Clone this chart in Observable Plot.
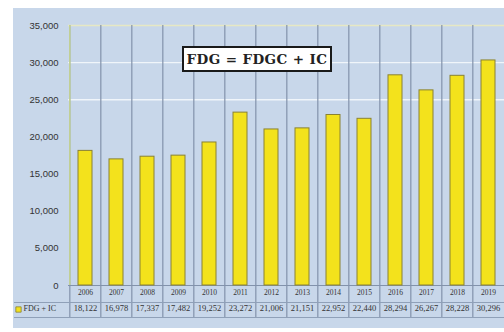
<!DOCTYPE html>
<html>
<head>
<meta charset="utf-8">
<script src="https://cdn.jsdelivr.net/npm/d3@7"></script>
<script src="https://cdn.jsdelivr.net/npm/@observablehq/plot@0.6"></script>
<style>
  html, body { margin: 0; padding: 0; background: #ffffff; overflow: hidden; }
  #wrap { position: relative; width: 504px; height: 332px; }
  #panel { position: absolute; left: 13px; top: 8px; width: 491px; height: 320px; background: #c8d7ea; }
  #chart { position: absolute; left: 0; top: 0; }
  #title { position: absolute; left: 182px; top: 46px; width: 146px; height: 22px;
           background: #ffffff; border: 2px solid #1a1a1a; box-sizing: content-box;
           font: bold 13.5px "DejaVu Serif", "Liberation Serif", serif; color: #222;
           display: flex; align-items: center; justify-content: center; letter-spacing: 0.4px; white-space: nowrap; }
</style>
</head>
<body>
<div id="wrap">
  <div id="panel"></div>
  <div id="chart"></div>
  <div id="title">FDG = FDGC + IC</div>
</div>
<script>
const years = ["2006","2007","2008","2009","2010","2011","2012","2013","2014","2015","2016","2017","2018","2019"];
const values = [18122, 16978, 17337, 17482, 19252, 23272, 21006, 21151, 22952, 22440, 28294, 26267, 28228, 30296];
const seriesName = "FDG + IC";
const yTicks = [0, 5000, 10000, 15000, 20000, 25000, 30000, 35000];
const gridTicks = [25000, 30000];

const data = years.map((y, i) => ({year: y, value: values[i]}));

const x0 = 67.5, x1 = 506.4;
const step = (x1 - x0) / years.length;
const fmt = d3.format(",");

const chart = Plot.plot({
  width: 504,
  height: 332,
  marginTop: 25,
  marginBottom: 47,
  marginLeft: 68,
  marginRight: 0,
  style: {background: "transparent", overflow: "visible", maxWidth: "none"},
  x: {domain: years, range: [x0, x1], paddingInner: 0.54, paddingOuter: 0.27, axis: null},
  y: {domain: [0, 35000], ticks: yTicks, tickFormat: fmt, label: null, axis: null},
  marks: [
    Plot.ruleY(gridTicks, {stroke: "#f4f8fc", strokeWidth: 1.4, strokeOpacity: 0.9}),
    Plot.ruleY([35000], {stroke: "#e6e8c4", strokeWidth: 1.4}),
    Plot.ruleX(years, {x: d => d, dx: -step / 2, stroke: "#8292ab", strokeWidth: 1.2, insetBottom: -32}),
    Plot.ruleX([years[0]], {x: d => d, dx: -step / 2, stroke: "#c8d690", strokeWidth: 1.4}),
    Plot.ruleY([0], {stroke: "#8292ab", strokeWidth: 1}),
    Plot.ruleY([0], {dy: 17, stroke: "#8fa0b8", strokeWidth: 1, insetLeft: -54}),
    Plot.ruleY([0], {dy: 32, stroke: "#8fa0b8", strokeWidth: 1, insetLeft: -54}),
    Plot.barY(data, {x: "year", y: "value", fill: "#f3e21c", stroke: "#8a8232", strokeWidth: 1}),
    Plot.axisY(yTicks, {tickFormat: fmt, tickSize: 0, tickPadding: 10, fontSize: 9.5, fill: "#333",
                fontFamily: "Liberation Sans, Arial, sans-serif", label: null}),
    Plot.text(data, {x: "year", text: "year", frameAnchor: "bottom", dy: 9, fontSize: 7.5, fill: "#333",
                     fontFamily: "Liberation Serif, serif"}),
    Plot.text(data, {x: "year", text: d => fmt(d.value), frameAnchor: "bottom", dy: 25, fontSize: 8.5, fill: "#333",
                     fontFamily: "Liberation Serif, serif"}),
    Plot.dot([seriesName], {frameAnchor: "bottom-left", dx: -50, dy: 24, symbol: "square", r: 3,
                            fill: "#f3e21c", stroke: "#8a8232", strokeWidth: 0.8}),
    Plot.text([seriesName], {frameAnchor: "bottom-left", dx: -45, dy: 25, text: d => d, textAnchor: "start",
                             fontSize: 8, fill: "#333", fontFamily: "Liberation Serif, serif"})
  ]
});
document.getElementById("chart").appendChild(chart);
</script>
</body>
</html>
